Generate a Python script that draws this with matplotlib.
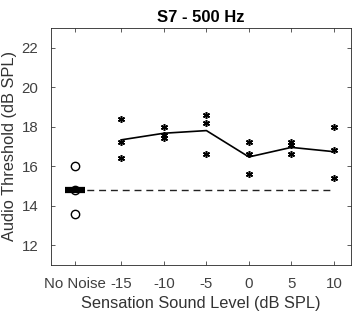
import matplotlib.pyplot as plt
import numpy as np

plt.rcParams['font.family'] = ['Liberation Sans', 'DejaVu Sans']

# posizioni sull'asse x (No Noise messo a sinistra)
levels = [-15, -10, -5, 0, 5, 10]
nonoise_x = -20.5
xtick_labels = ['No Noise', '-15', '-10', '-5', '0', '5', '10']

# soglie misurate per ogni livello (3 ripetizioni)
trials = [
    [18.4, 17.2, 16.4],
    [18.0, 17.6, 17.4],
    [18.6, 18.2, 16.6],
    [17.2, 16.6, 15.6],
    [17.2, 17.05, 16.6],
    [18.0, 16.8, 15.4],
]
nonoise_trials = [16.0, 14.8, 13.6]

fig = plt.figure(figsize=(3.54, 3.2), dpi=100)
ax = fig.add_axes([0.144, 0.172, 0.847, 0.741])

means = [np.mean(t) for t in trials]
nonoise_mean = np.mean(nonoise_trials)

# baseline senza rumore
ax.plot([nonoise_x, levels[-1]], [nonoise_mean, nonoise_mean], '--', color='#222222',
        lw=1.0, dashes=(5, 3.5))
ax.plot([nonoise_x, nonoise_x, nonoise_x], nonoise_trials, 'o', mfc='white', mec='black',
        ms=6, mew=1.0)
ax.plot([nonoise_x], [nonoise_mean], marker='_', color='black', ms=14, mew=4.5)

# singole prove e media
for x, t in zip(levels, trials):
    ax.plot([x] * len(t), t, linestyle='none', marker=(6, 2, 0), color='black',
            ms=5, mew=1.1)
ax.plot(levels, means, '-', color='black', lw=1.2)

ax.set_xlim(-23.3, 12)
ax.set_ylim(11, 23)
ax.set_xticks([nonoise_x] + levels)
ax.set_xticklabels(xtick_labels)
ax.set_yticks([12, 14, 16, 18, 20, 22])

ax.tick_params(direction='in', top=True, right=True, length=3, width=0.6,
               labelsize=10.8, colors='#404040', pad=9)
for s in ax.spines.values():
    s.set_linewidth(0.6)
    s.set_color('#262626')

ax.set_xlabel('Sensation Sound Level (dB SPL)', fontsize=11.8, color='#333333', labelpad=3)
ax.set_ylabel('Audio Threshold (dB SPL)', fontsize=11.8, color='#333333', labelpad=3)
ax.set_title('S7 - 500 Hz', fontsize=12, fontweight='bold', pad=4)

fig.savefig('out.png', dpi=100)
